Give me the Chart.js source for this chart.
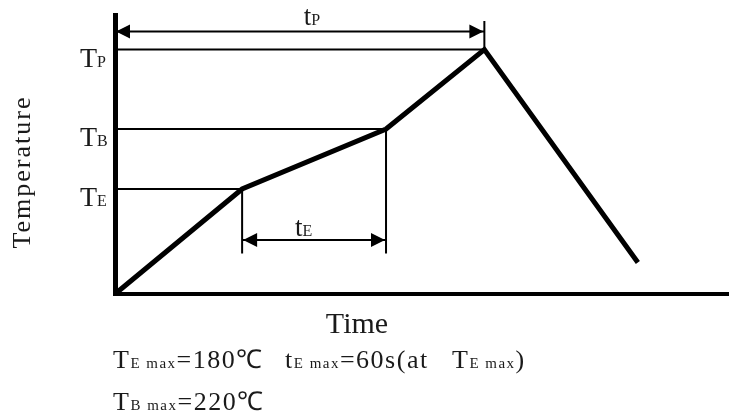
<!DOCTYPE html>
<html>
<head>
<meta charset="utf-8">
<script src="https://cdn.jsdelivr.net/npm/chart.js@4.4.1/dist/chart.umd.min.js"></script>
<style>
  html, body { margin: 0; padding: 0; background: #fff; }
</style>
</head>
<body>
<canvas id="ProfileChart" width="729" height="416"></canvas>
<script>
// temperature profile (time, temperature)
const times = [0, 53, 113, 154, 218];
const temps = [110, 180, 220, 273, 131];

// reference levels TP, TB, TE and where each one meets the profile
const levelNames = ['P', 'B', 'E'];
const levelTemps = [273, 220, 180];
const levelEnds = [154, 113, 53];

// axis ranges
const timeRange = [0, 256];
const tempRange = [110, 296];

// span arrows tP, tE
const spanNames = ['P', 'E'];
const spanStarts = [0, 53];
const spanEnds = [154, 113];
const spanTemps = [285, 146];

// short vertical guides
const peakMarkTop = 292;
const dropBottom = 137;

const FONT = '"Liberation Serif", "Times New Roman", serif';
const INK = '#1a1a1a';

const seg = (x1, y1, x2, y2) => [{ x: x1, y: y1 }, { x: x2, y: y2 }];
const thin = (data) => ({
    data: data,
    borderColor: '#000',
    borderWidth: 2,
    pointRadius: 0,
    clip: false
});

// text with subscripts: [[text, size], ...] drawn one after another
const drawRich = (ctx, x, y, parts) => {
    parts.forEach(([text, size]) => {
        ctx.font = `${size}px ${FONT}`;
        ctx.fillText(text, x, y);
        x += ctx.measureText(text).width;
    });
};

const arrowPlugin = {
    id: 'arrowPlugin',
    afterDatasetsDraw: (chart) => {
        const { ctx, scales } = chart;
        ctx.save();
        ctx.fillStyle = '#000';
        spanNames.forEach((name, i) => {
            const x1 = scales.x.getPixelForValue(spanStarts[i]);
            const x2 = scales.x.getPixelForValue(spanEnds[i]);
            const y = scales.y.getPixelForValue(spanTemps[i]);
            const len = 14, half = 7;
            ctx.beginPath();
            ctx.moveTo(x1 + 1, y);
            ctx.lineTo(x1 + 1 + len, y - half);
            ctx.lineTo(x1 + 1 + len, y + half);
            ctx.closePath();
            ctx.fill();
            ctx.beginPath();
            ctx.moveTo(x2 - 1, y);
            ctx.lineTo(x2 - 1 - len, y - half);
            ctx.lineTo(x2 - 1 - len, y + half);
            ctx.closePath();
            ctx.fill();
        });
        ctx.restore();
    }
};

const textPlugin = {
    id: 'textPlugin',
    afterDraw: (chart) => {
        const { ctx, scales } = chart;
        ctx.save();
        ctx.fillStyle = INK;
        ctx.textBaseline = 'alphabetic';
        ctx.textAlign = 'left';

        // level labels on the left
        levelNames.forEach((name, i) => {
            const y = scales.y.getPixelForValue(levelTemps[i]);
            drawRich(ctx, 80, y + 17, [['T', 28], [name, 16]]);
        });

        // span labels above arrows
        const spanOffsets = [7, 4];
        spanNames.forEach((name, i) => {
            const x1 = scales.x.getPixelForValue(spanStarts[i]);
            const x2 = scales.x.getPixelForValue(spanEnds[i]);
            const y = scales.y.getPixelForValue(spanTemps[i]);
            const mid = (x1 + x2) / 2 + (i === 0 ? 18 : -5);
            drawRich(ctx, mid - 14, y - spanOffsets[i], [['t', 27], [name, 16]]);
        });

        // axis titles
        ctx.font = `30px ${FONT}`;
        ctx.textAlign = 'center';
        ctx.fillText('Time', 357, 333);

        ctx.save();
        ctx.translate(30, 172);
        ctx.rotate(-Math.PI / 2);
        ctx.font = `26px ${FONT}`;
        ctx.letterSpacing = '2px';
        ctx.fillText('Temperature', 0, 0);
        ctx.restore();

        // notes under the chart
        ctx.textAlign = 'left';
        ctx.letterSpacing = '1.5px';
        const tE = spanEnds[1] - spanStarts[1];
        drawRich(ctx, 113, 368, [['T', 26], ['E', 15], [' max', 15], ['=' + levelTemps[2] + '℃', 26]]);
        drawRich(ctx, 285, 368, [['t', 26], ['E', 15], [' max', 15], ['=' + tE + 's(at', 26]]);
        drawRich(ctx, 452, 368, [['T', 26], ['E', 15], [' max', 15], [')', 26]]);
        drawRich(ctx, 113, 410, [['T', 26], ['B', 15], [' max', 15], ['=' + levelTemps[1] + '℃', 26]]);
        ctx.restore();
    }
};

const profile_chart = () => {
    const ctx = document.getElementById('ProfileChart');
    if (!ctx) return;

    const datasets = [
        {
            data: times.map((t, i) => ({ x: t, y: temps[i] })),
            borderColor: '#000',
            borderWidth: 5,
            borderJoinStyle: 'miter',
            pointRadius: 0,
            clip: false
        }
    ];
    // horizontal level lines
    levelTemps.forEach((v, i) => datasets.push(thin(seg(timeRange[0], v, levelEnds[i], v))));
    // vertical guides
    datasets.push(thin(seg(times[3], temps[3], times[3], peakMarkTop)));
    datasets.push(thin(seg(times[1], temps[1], times[1], dropBottom)));
    datasets.push(thin(seg(times[2], temps[2], times[2], dropBottom)));
    // arrow shafts
    spanNames.forEach((n, i) => datasets.push(thin(seg(spanStarts[i], spanTemps[i], spanEnds[i], spanTemps[i]))));

    new Chart(ctx, {
        type: 'line',
        data: { datasets: datasets },
        options: {
            responsive: false,
            animation: false,
            layout: { padding: { left: 115, top: 15, right: 0, bottom: 122 } },
            scales: {
                x: {
                    type: 'linear',
                    min: timeRange[0],
                    max: timeRange[1],
                    ticks: { display: false },
                    grid: { display: false, drawTicks: false },
                    border: { display: true, color: '#000', width: 4 }
                },
                y: {
                    type: 'linear',
                    min: tempRange[0],
                    max: tempRange[1],
                    ticks: { display: false },
                    grid: { display: false, drawTicks: false },
                    border: { display: true, color: '#000', width: 5 }
                }
            },
            plugins: {
                legend: { display: false },
                tooltip: { enabled: false }
            }
        },
        plugins: [arrowPlugin, textPlugin]
    });
};

document.addEventListener('DOMContentLoaded', () => {
    profile_chart();
});
</script>
</body>
</html>
